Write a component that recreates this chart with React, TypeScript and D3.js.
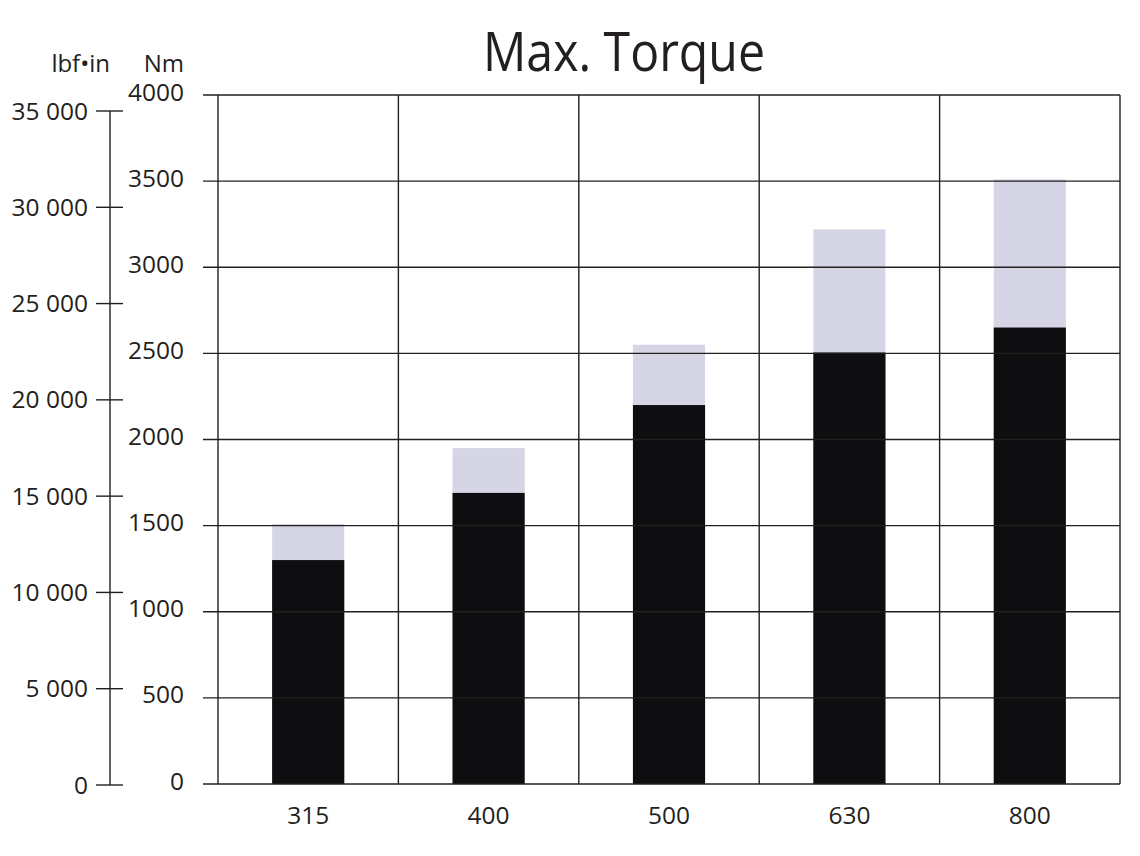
import React, { useRef, useEffect } from 'react';
import * as d3 from 'd3';

// gearbox sizes
const sizes = ['315', '400', '500', '630', '800'];
// continuous torque (black), Nm
const ratedTorque = [1300, 1690, 2200, 2505, 2650];
// peak torque (lavender), Nm
const maxTorque = [1510, 1950, 2550, 3220, 3510];
const nmTicks = [0, 500, 1000, 1500, 2000, 2500, 3000, 3500, 4000];
const lbfTicks = [0, 5000, 10000, 15000, 20000, 25000, 30000, 35000];

const W = 1140;
const H = 856;
const FONT = '"Open Sans", "Noto Sans", sans-serif';
const INK = '#231f20';

const App: React.FC = () => {
  const svgRef = useRef<SVGSVGElement>(null);

  useEffect(() => {
    if (!svgRef.current) return;
    const svg = d3.select(svgRef.current);
    svg.selectAll('*').remove();

    const plot = { left: 218, right: 1120, top: 95, bottom: 784 };

    const x = d3.scaleBand().domain(sizes).range([plot.left, plot.right]).paddingInner(0).paddingOuter(0);
    const y = d3.scaleLinear().domain([0, 4000]).range([plot.bottom, plot.top]);
    const yl = d3.scaleLinear().domain([0, 35000]).range([785, 111]);
    const barW = x.bandwidth() * 0.4;

    // title
    svg.append('text')
      .attr('x', 624).attr('y', 71)
      .attr('text-anchor', 'middle')
      .attr('font-family', FONT)
      .attr('font-size', 54)
      .attr('textLength', 282)
      .attr('lengthAdjust', 'spacingAndGlyphs')
      .attr('fill', INK)
      .text('Max. Torque');

    // units
    svg.append('text').attr('x', 110).attr('y', 72).attr('text-anchor', 'end')
      .attr('font-family', FONT).attr('font-size', 24).attr('fill', INK).text('lbf•in');
    svg.append('text').attr('x', 184).attr('y', 72).attr('text-anchor', 'end')
      .attr('font-family', FONT).attr('font-size', 24).attr('fill', INK).text('Nm');

    // bars: peak behind, rated in front
    const bars = svg.append('g');
    sizes.forEach((s, i) => {
      const bx = (x(s) || 0) + (x.bandwidth() - barW) / 2;
      bars.append('rect')
        .attr('x', bx).attr('y', y(maxTorque[i]))
        .attr('width', barW).attr('height', y(0) - y(maxTorque[i]))
        .attr('fill', '#d6d5e5');
      bars.append('rect')
        .attr('x', bx).attr('y', y(ratedTorque[i]))
        .attr('width', barW).attr('height', y(0) - y(ratedTorque[i]))
        .attr('fill', '#0e0e10');
    });

    // horizontal grid (with ticks sticking out left)
    const grid = svg.append('g').attr('stroke', INK).attr('stroke-width', 1.4);
    nmTicks.forEach(t => {
      grid.append('line')
        .attr('x1', plot.left - 15).attr('x2', plot.right)
        .attr('y1', y(t)).attr('y2', y(t));
    });
    // vertical grid
    const edges = sizes.map(s => x(s) || 0).concat([plot.right]);
    edges.forEach(ex => {
      grid.append('line')
        .attr('x1', ex).attr('x2', ex)
        .attr('y1', plot.top).attr('y2', plot.bottom);
    });

    // Nm labels
    svg.append('g').selectAll('text').data(nmTicks).enter().append('text')
      .attr('x', 184).attr('y', d => y(d) - 3)
      .attr('dy', '0.35em')
      .attr('text-anchor', 'end')
      .attr('font-family', FONT).attr('font-size', 24.5).attr('fill', INK)
      .text(d => String(d));

    // lbf·in axis
    const la = svg.append('g').attr('stroke', INK).attr('stroke-width', 1.4);
    la.append('line').attr('x1', 110).attr('x2', 110).attr('y1', yl(35000)).attr('y2', yl(0));
    lbfTicks.forEach(t => {
      la.append('line').attr('x1', 96).attr('x2', 123).attr('y1', yl(t)).attr('y2', yl(t));
    });
    svg.append('g').selectAll('text').data(lbfTicks).enter().append('text')
      .attr('x', 88).attr('y', d => yl(d))
      .attr('dy', '0.35em')
      .attr('text-anchor', 'end')
      .attr('font-family', FONT).attr('font-size', 24.5).attr('fill', INK)
      .text(d => (d >= 1000 ? `${Math.floor(d / 1000)} ${String(d % 1000).padStart(3, '0')}` : String(d)));

    // x labels
    svg.append('g').selectAll('text').data(sizes).enter().append('text')
      .attr('x', d => (x(d) || 0) + x.bandwidth() / 2)
      .attr('y', 824)
      .attr('text-anchor', 'middle')
      .attr('font-family', FONT).attr('font-size', 24.5).attr('fill', INK)
      .text(d => d);
  }, []);

  return (
    <div style={{ position: 'absolute', left: 0, top: 0, background: '#fff' }}>
      <svg ref={svgRef} width={W} height={H} style={{ display: 'block' }}></svg>
    </div>
  );
};

export default App;
